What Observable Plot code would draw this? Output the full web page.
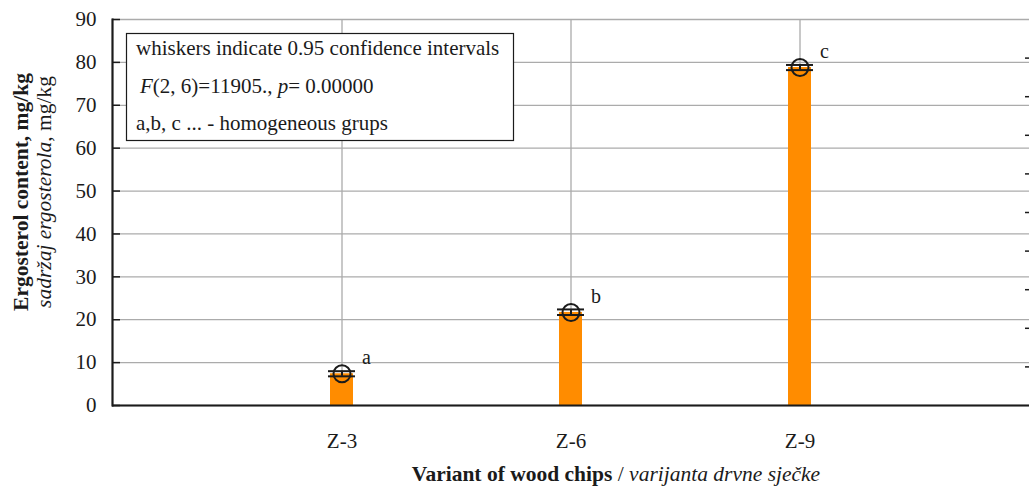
<!DOCTYPE html>
<html>
<head>
<meta charset="utf-8">
<script src="https://cdn.jsdelivr.net/npm/d3@7"></script>
<script src="https://cdn.jsdelivr.net/npm/@observablehq/plot@0.6"></script>
<style>
  body { margin: 0; background: #fff; }
  #chart svg { display: block; }
</style>
</head>
<body>
<div id="chart"></div>
<script>
// Ergosterol content per wood-chip variant: means with 0.95 confidence intervals
const variants = ["Z-3", "Z-6", "Z-9"];
const means = [7.4, 21.7, 78.8];
const ciLow = [6.8, 21.1, 78.2];
const ciHigh = [8.0, 22.4, 79.4];
const groups = ["a", "b", "c"];
const yTicks = [0, 10, 20, 30, 40, 50, 60, 70, 80, 90];
const rightTicks = [9, 18, 27, 36, 45, 54, 63, 72, 81];

const W = 1029, H = 490;
const mL = 112, mR = 0, mT = 19, mB = 85;
const plotW = W - mL - mR, plotH = H - mT - mB;
const serif = "'Liberation Serif', 'Times New Roman', serif";
const ink = "#1b1b1b";
const gridColor = "#ababab";
const barColor = "#ff8c00";

const data = variants.map((v, i) => ({
  variant: v, mean: means[i], lo: ciLow[i], hi: ciHigh[i], group: groups[i]
}));

const chart = Plot.plot({
  width: W,
  height: H,
  marginLeft: mL,
  marginRight: mR,
  marginTop: mT,
  marginBottom: mB,
  style: { fontFamily: serif, fontSize: "21px", color: ink, background: "#fff" },
  x: { type: "band", domain: variants, paddingInner: 0.9, paddingOuter: 0.95, label: null },
  y: { domain: [0, 90], label: null },
  marks: [
    Plot.gridY(yTicks, { stroke: gridColor, strokeOpacity: 1, strokeWidth: 1.3 }),
    Plot.gridX(variants, { stroke: gridColor, strokeOpacity: 1, strokeWidth: 1.3 }),
    // short inner ticks on the left, bottom and right edges
    Plot.tickY(yTicks, { y: d => d, stroke: ink, strokeWidth: 1.5, insetRight: plotW - 8 }),
    Plot.tickY(rightTicks, { y: d => d, stroke: ink, strokeWidth: 1.5, insetLeft: plotW - 4 }),
    Plot.tickX(variants, { x: d => d, stroke: ink, strokeWidth: 1.5, insetTop: plotH - 6 }),
    Plot.barY(data, { x: "variant", y: "mean", fill: barColor }),
    // confidence-interval whiskers with caps, mean marker
    Plot.ruleX(data, { x: "variant", y1: "lo", y2: "hi", stroke: ink, strokeWidth: 2 }),
    Plot.tickY(data, { x: "variant", y: "lo", stroke: ink, strokeWidth: 2, insetLeft: -2, insetRight: -2 }),
    Plot.tickY(data, { x: "variant", y: "hi", stroke: ink, strokeWidth: 2, insetLeft: -2, insetRight: -2 }),
    Plot.dot(data, { x: "variant", y: "mean", r: 8.5, stroke: ink, strokeWidth: 2, fill: "none" }),
    Plot.text(data, { x: "variant", y: "mean", text: "group", dx: 20, dy: -16, textAnchor: "start", fontSize: 20, fill: ink }),
    Plot.ruleY([0], { stroke: ink, strokeWidth: 2.2 }),
    Plot.frame({ anchor: "left", stroke: ink, strokeWidth: 2.2 }),
    Plot.axisY(yTicks, { tickSize: 0, tickPadding: 16, fontSize: 21 }),
    Plot.axisX({ tickSize: 0, tickPadding: 28, fontSize: 21 })
  ]
});

document.getElementById("chart").append(chart);

// Annotations: note box and axis titles with mixed bold / italic runs
const svg = d3.select(chart);
const notes = svg.append("g")
  .attr("font-family", serif).attr("font-size", 21).attr("fill", ink)
  .attr("text-anchor", "start");
notes.append("rect")
  .attr("x", 126.5).attr("y", 33.5).attr("width", 387).attr("height", 107)
  .attr("fill", "#fff").attr("stroke", ink).attr("stroke-width", 1.2);
notes.append("text").attr("x", 136).attr("y", 55).text("whiskers indicate 0.95 confidence intervals");
const l2 = notes.append("text").attr("x", 140).attr("y", 93);
l2.append("tspan").attr("font-style", "italic").text("F");
l2.append("tspan").text("(2, 6)=11905., ");
l2.append("tspan").attr("font-style", "italic").text("p");
l2.append("tspan").text("= 0.00000");
notes.append("text").attr("x", 136).attr("y", 130).text("a,b, c ... - homogeneous grups");

const titles = svg.append("g").attr("font-family", serif).attr("font-size", 21.5).attr("fill", ink);
titles.append("text")
  .attr("transform", "translate(28,192) rotate(-90)")
  .attr("text-anchor", "middle").attr("font-weight", "bold")
  .text("Ergosterol content, mg/kg");
const yt2 = titles.append("text")
  .attr("transform", "translate(51,192) rotate(-90)")
  .attr("text-anchor", "middle");
yt2.append("tspan").attr("font-style", "italic").text("sadržaj ergosterola");
yt2.append("tspan").text(", mg/kg");

const xt = titles.append("text")
  .attr("x", 616).attr("y", 481).attr("text-anchor", "middle");
xt.append("tspan").attr("font-weight", "bold").text("Variant of wood chips");
xt.append("tspan").text(" / ");
xt.append("tspan").attr("font-style", "italic").text("varijanta drvne sječke");
</script>
</body>
</html>
